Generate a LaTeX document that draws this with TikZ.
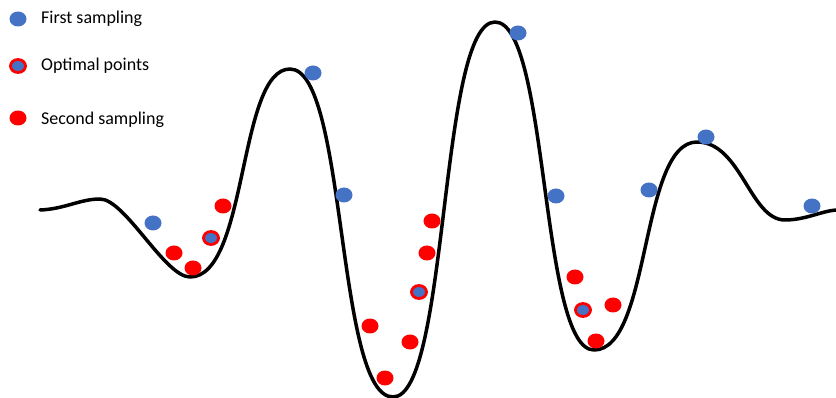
\documentclass[tikz,border=0pt]{standalone}
\usepackage{fontspec}
\setmainfont{Carlito}
\usetikzlibrary{shapes.geometric}
\definecolor{dotblue}{HTML}{4472C4}
\definecolor{dotred}{HTML}{FF0000}
\tikzset{
  dotbase/.style={ellipse, inner sep=0pt, minimum width=17pt, minimum height=15pt},
  bluedot/.style={dotbase, fill=dotblue},
  reddot/.style={dotbase, fill=dotred},
  optdot/.style={ellipse, inner sep=0pt, minimum width=15pt, minimum height=13pt, fill=dotblue, draw=dotred, line width=2.8pt},
  legendtext/.style={anchor=west, inner sep=0pt, font=\fontsize{18pt}{21pt}\selectfont},
  wave/.style={line width=3.5pt, black, line cap=round, line join=round}
}
\begin{document}
\begin{tikzpicture}[x=1pt, y=-1pt]
\useasboundingbox (0,0) rectangle (836,398);
% curve
\draw[wave] (40,210)
  .. controls (65,209) and (80,199) .. (100,199)
  .. controls (125,199) and (165,277) .. (190,277)
  .. controls (248,277) and (238,69) .. (290,69)
  .. controls (347,69) and (336,397) .. (393,397)
  .. controls (449,397) and (439,22) .. (495,22)
  .. controls (549,22) and (540,350) .. (594,350)
  .. controls (651,350) and (640,142) .. (697,142)
  .. controls (741,142) and (750,220) .. (785,220)
  .. controls (805,220) and (822,211) .. (836,210);
% first sampling
\node[bluedot] (b1) at (153,223) {};
\node[bluedot] (b2) at (313,73) {};
\node[bluedot] (b3) at (344,195) {};
\node[bluedot] (b4) at (518,33) {};
\node[bluedot] (b5) at (556,196) {};
\node[bluedot] (b6) at (649,190) {};
\node[bluedot] (b7) at (706,137) {};
\node[bluedot] (b8) at (812,206) {};
% second sampling
\node[reddot] (r1) at (223,206) {};
\node[reddot] (r2) at (174,253) {};
\node[reddot] (r3) at (193,268) {};
\node[reddot] (r4) at (432,221) {};
\node[reddot] (r5) at (427,253) {};
\node[reddot] (r6) at (370,326) {};
\node[reddot] (r7) at (410,342) {};
\node[reddot] (r8) at (385,378) {};
\node[reddot] (r9) at (575,277) {};
\node[reddot] (r10) at (613,305) {};
\node[reddot] (r11) at (596,341) {};
% optimal points
\node[optdot] (o1) at (211,238) {};
\node[optdot] (o2) at (419,292) {};
\node[optdot] (o3) at (583,310) {};
% legend
\node[bluedot] (lb) at (18,19) {};
\node[legendtext] (lt1) at (41,19) {First sampling};
\node[optdot] (lo) at (18,66) {};
\node[legendtext] (lt2) at (41,66) {Optimal points};
\node[reddot] (lr) at (18,118) {};
\node[legendtext] (lt3) at (41,120) {Second sampling};
\end{tikzpicture}
\end{document}
